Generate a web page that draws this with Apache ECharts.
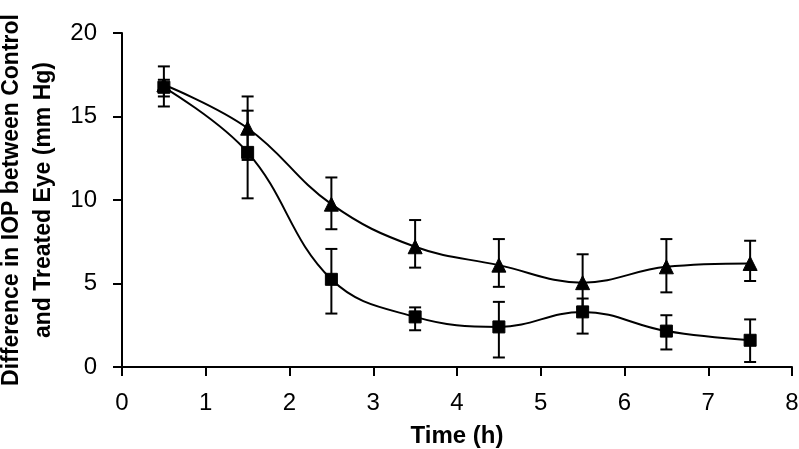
<!DOCTYPE html>
<html>
<head>
<meta charset="utf-8">
<script src="https://cdn.jsdelivr.net/npm/echarts@6/dist/echarts.min.js"></script>
<style>html,body{margin:0;padding:0;background:#fff}#c{width:799px;height:449px}</style>
</head>
<body>
<div id="c"></div>
<script>
var times = [0.5, 1.5, 2.5, 3.5, 4.5, 5.5, 6.5, 7.5];
var triMean = [16.9, 14.3, 9.75, 7.2, 6.1, 5.05, 6.0, 6.2];
var triLow  = [16.2, 12.4, 8.25, 5.95, 4.8, 3.57, 4.47, 5.15];
var triHigh = [17.2, 16.2, 11.35, 8.8, 7.66, 6.75, 7.66, 7.56];
var sqMean  = [16.75, 12.85, 5.25, 3.0, 2.4, 3.3, 2.15, 1.6];
var sqLow   = [15.6, 10.1, 3.2, 2.2, 0.57, 2.0, 1.05, 0.3];
var sqHigh  = [18.0, 15.35, 7.07, 3.57, 3.9, 4.1, 3.1, 2.85];
var xTicks = [0, 1, 2, 3, 4, 5, 6, 7, 8];
var yTicks = [0, 5, 10, 15, 20];

function pairs(x, y) { return x.map(function (v, i) { return [v, y[i]]; }); }
function triples(x, lo, hi) { return x.map(function (v, i) { return [v, lo[i], hi[i]]; }); }

function errItem(params, api) {
  var x = api.value(0);
  var lo = api.coord([x, api.value(1)]);
  var hi = api.coord([x, api.value(2)]);
  var hw = 6;
  var st = { stroke: '#000', lineWidth: 2 };
  return {
    type: 'group',
    children: [
      { type: 'line', shape: { x1: lo[0], y1: lo[1], x2: hi[0], y2: hi[1] }, style: st },
      { type: 'line', shape: { x1: lo[0] - hw, y1: lo[1], x2: lo[0] + hw, y2: lo[1] }, style: st },
      { type: 'line', shape: { x1: hi[0] - hw, y1: hi[1], x2: hi[0] + hw, y2: hi[1] }, style: st }
    ]
  };
}

var font = "'Liberation Sans', Arial, sans-serif";
var boldFont = "'Liberation Sans', Arial, sans-serif";

var chart = echarts.init(document.getElementById('c'), null, { renderer: 'canvas' });
chart.setOption({
  animation: false,
  backgroundColor: '#fff',
  grid: { left: 122, right: 7, top: 33, bottom: 82, containLabel: false, outerBoundsMode: 'none' },
  xAxis: {
    type: 'value', min: xTicks[0], max: xTicks[xTicks.length - 1], interval: 1,
    name: 'Time (h)', nameLocation: 'middle', nameGap: 57,
    nameTextStyle: { fontFamily: boldFont, fontWeight: 'bold', fontSize: 24, color: '#000' },
    axisLine: { show: true, onZero: false, lineStyle: { color: '#000', width: 2 } },
    axisTick: { show: true, inside: false, length: 9, lineStyle: { color: '#000', width: 2 } },
    axisLabel: { margin: 24, fontFamily: font, fontSize: 24, color: '#000' },
    splitLine: { show: false }
  },
  yAxis: {
    type: 'value', min: yTicks[0], max: yTicks[yTicks.length - 1], interval: 5,
    name: 'Difference in IOP between Control\nand Treated Eye (mm Hg)',
    nameLocation: 'middle', nameRotate: 90, nameGap: 59,
    nameTextStyle: { fontFamily: boldFont, fontWeight: 'bold', fontSize: 23, lineHeight: 32, color: '#000', align: 'center' },
    axisLine: { show: true, onZero: false, lineStyle: { color: '#000', width: 2 } },
    axisTick: { show: true, inside: false, length: 9, lineStyle: { color: '#000', width: 2 } },
    axisLabel: { margin: 25, fontFamily: font, fontSize: 24, color: '#000' },
    splitLine: { show: false }
  },
  series: [
    { type: 'custom', name: 'triErr', renderItem: errItem, data: triples(times, triLow, triHigh), z: 2 },
    { type: 'custom', name: 'sqErr', renderItem: errItem, data: triples(times, sqLow, sqHigh), z: 2 },
    {
      type: 'line', name: 'Triangle', data: pairs(times, triMean), smooth: 0.4,
      symbol: 'triangle', symbolSize: 14, z: 3,
      lineStyle: { color: '#000', width: 2 }, itemStyle: { color: '#000', borderColor: '#000' }
    },
    {
      type: 'line', name: 'Square', data: pairs(times, sqMean), smooth: 0.4,
      symbol: 'rect', symbolSize: 12, z: 3,
      lineStyle: { color: '#000', width: 2 }, itemStyle: { color: '#000', borderColor: '#000' }
    }
  ]
});
</script>
</body>
</html>
